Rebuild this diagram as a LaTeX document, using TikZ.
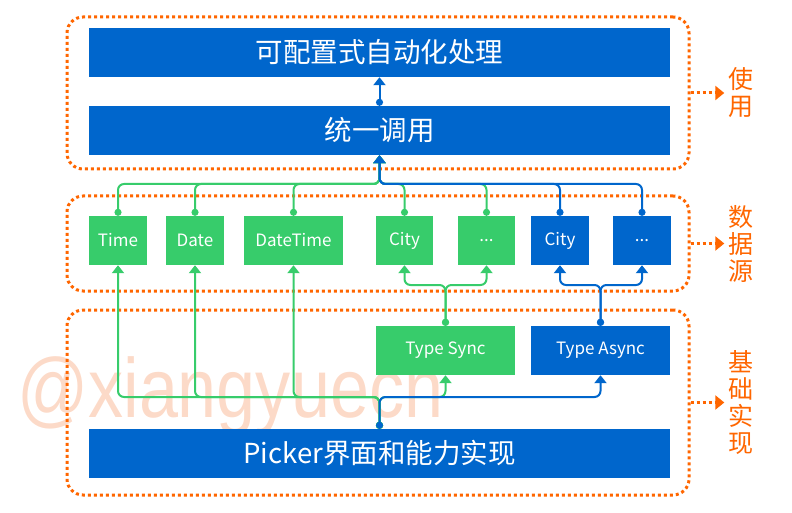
\documentclass[tikz,border=0pt]{standalone}
\usepackage{fontspec}
\setmainfont{Noto Sans CJK SC}
\newfontfamily\markfont{Liberation Sans}
\usetikzlibrary{arrows.meta}
\definecolor{pblue}{RGB}{0,102,204}
\definecolor{pgreen}{RGB}{55,204,107}
\definecolor{porange}{RGB}{255,102,0}
\definecolor{pmark}{RGB}{252,218,200}

\begin{document}
\begin{tikzpicture}[x=1pt,y=-1pt,
		box/.style = {fill=#1, text=white, inner sep=0pt, minimum height=49pt, font=\fontsize{17}{19}\selectfont},
		wide/.style = {fill=pblue, text=white, inner sep=0pt, minimum width=581pt, minimum height=49pt, font=\fontsize{27.5}{30}\selectfont},
		group/.style = {draw=porange, line width=3pt, dash pattern=on 3pt off 3pt, rounded corners=16pt, minimum width=622pt},
		wire/.style = {line width=2pt, rounded corners=6pt, {Circle[length=7pt]}-{Triangle[width=12pt,length=8pt]}},
		side/.style = {text=porange, align=center, inner sep=0pt, font=\fontsize{25}{27}\selectfont},
		sidearrow/.style = {draw=porange, line width=3pt, dash pattern=on 3pt off 3pt, -{Triangle[width=14pt,length=9pt]}, shorten >=4pt}]
		\useasboundingbox (0,0) rectangle (792,513);
		% watermark
		\node [anchor=base west, inner sep=0pt, xscale=0.835, text=pmark, font=\markfont\fontsize{84}{84}\selectfont] (mark) at (17,417) {@xiangyuecn};
		% groups
		\node [group, minimum height=152pt] (useg) at (378,93) {};
		\node [group, minimum height=95pt] (srcg) at (378,243.5) {};
		\node [group, minimum height=185pt] (baseg) at (378,402.5) {};
		\node [side] (usel) at (741,93) {使\\用};
		\node [side] (srcl) at (741,243.5) {数\\据\\源};
		\node [side] (basel) at (741,402.5) {基\\础\\实\\现};
		\draw [sidearrow] (useg.east) -- (usel.west);
		\draw [sidearrow] (srcg.east) -- (srcl.west);
		\draw [sidearrow] (baseg.east) -- (basel.west);
		% boxes
		\node [wide] (top) at (379.5,52.5) {可配置式自动化处理};
		\node [wide] (call) at (379.5,130.5) {统一调用};
		\node [box=pgreen, minimum width=58pt] (time) at (118,240.5) {Time};
		\node [box=pgreen, minimum width=58pt] (date) at (195,240.5) {Date};
		\node [box=pgreen, minimum width=99pt] (datetime) at (293.5,240.5) {DateTime};
		\node [box=pgreen, minimum width=57pt] (citys) at (404.5,240.5) {City};
		\node [box=pgreen, minimum width=57pt] (moresync) at (486.5,240.5) {...};
		\node [box=pblue, minimum width=58pt] (citya) at (560,240.5) {City};
		\node [box=pblue, minimum width=58pt] (moreasync) at (642,240.5) {...};
		\node [box=pgreen, minimum width=139pt] (sync) at (445.5,350.5) {Type Sync};
		\node [box=pblue, minimum width=139pt] (async) at (600.5,350.5) {Type Async};
		\node [wide] (picker) at (379.5,453.5) {Picker界面和能力实现};
		% joints
		\coordinate (up) at (379.5,184);
		\coordinate (dn) at (379.5,397);
		\coordinate (syncm) at (445.5,285);
		\coordinate (asyncm) at (600.5,285);
		% wires
		\foreach \n in {time,date,datetime,citys,moresync}
			\draw [wire, pgreen] (\n.north) |- (up) -- (call.south);
		\foreach \n in {citya,moreasync}
			\draw [wire, pblue] (\n.north) |- (up) -- (call.south);
		\draw [wire, pblue] (call.north) -- (top.south);
		\foreach \n in {time,date,datetime,sync}
			\draw [wire, pgreen] (picker.north) -- (dn) -| (\n.south);
		\draw [wire, pblue] (picker.north) -- (dn) -| (async.south);
		\foreach \n in {citys,moresync}
			\draw [wire, pgreen] (sync.north) -- (syncm) -| (\n.south);
		\foreach \n in {citya,moreasync}
			\draw [wire, pblue] (async.north) -- (asyncm) -| (\n.south);
	\end{tikzpicture}
\end{document}
